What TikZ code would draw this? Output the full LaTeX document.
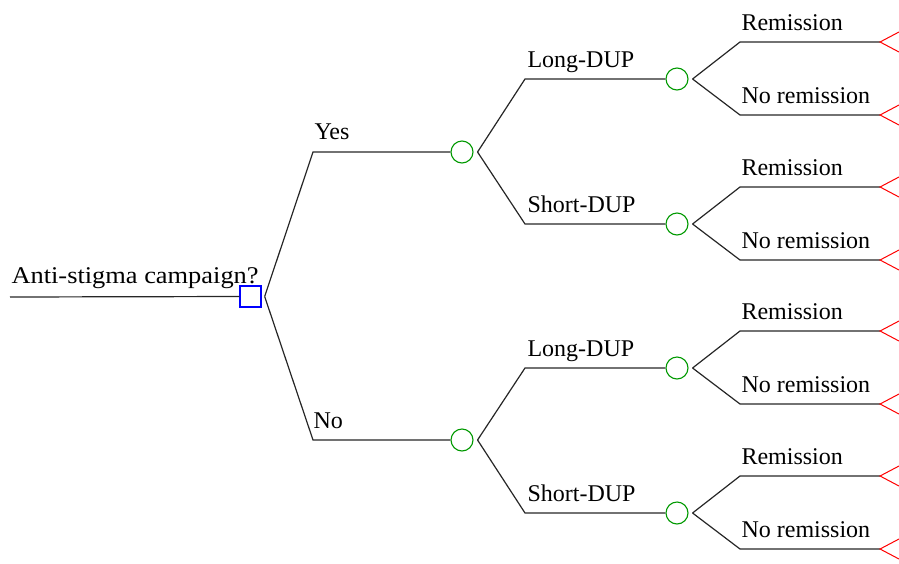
\documentclass[tikz,border=0pt]{standalone}
\usepackage{fontspec}
\setmainfont{Liberation Serif}
\newfontfamily\widefont[FakeStretch=1.1]{Liberation Serif}
\begin{document}
\begin{tikzpicture}[x=1pt,y=-1pt,line width=1.1pt,
  branch/.style={draw=black!85,line width=1.2pt},
  decision/.style={draw=blue,line width=1.3pt,rectangle,minimum size=21pt,inner sep=0pt},
  chance/.style={draw=green!60!black,circle,minimum size=22pt,inner sep=0pt,line width=1.1pt},
  lbl/.style={anchor=base west,inner sep=0pt,font=\fontsize{24}{28}\selectfont},
  term/.style={draw=red,line width=1pt}]
\useasboundingbox (0,0) rectangle (899,563);
% root
\coordinate (R) at (10,297);
\node[decision] (D) at (250.5,296.5) {};
\node[lbl,font=\fontsize{24}{28}\widefont] (q) at (11,283) {Anti-stigma campaign?};
\draw[branch] (R) -- (D.west);
% first level
\coordinate (Ey) at (313,152);
\coordinate (En) at (313,440);
\node[chance] (C1) at (462,152) {};
\node[chance] (C2) at (462,440) {};
\coordinate (Dp) at ([xshift=3pt]D.east);
\draw[branch] (Dp) -- (Ey) -- (C1.west);
\draw[branch] (Dp) -- (En) -- (C2.west);
\node[lbl] (ly) at (314,139) {Yes};
\node[lbl] (ln) at (313,428) {No};
% second level
\coordinate (E11) at (525,79);
\coordinate (E12) at (525,224);
\coordinate (E21) at (525,368);
\coordinate (E22) at (525,513);
\node[chance] (C11) at (677,79) {};
\node[chance] (C12) at (677,224) {};
\node[chance] (C21) at (677,368) {};
\node[chance] (C22) at (677,513) {};
\coordinate (P1) at ([xshift=4pt]C1.east);
\coordinate (P2) at ([xshift=4pt]C2.east);
\draw[branch] (P1) -- (E11) -- (C11.west);
\draw[branch] (P1) -- (E12) -- (C12.west);
\draw[branch] (P2) -- (E21) -- (C21.west);
\draw[branch] (P2) -- (E22) -- (C22.west);
\node[lbl] (l11) at (527,67) {Long-DUP};
\node[lbl] (l12) at (527,212) {Short-DUP};
\node[lbl] (l21) at (527,356) {Long-DUP};
\node[lbl] (l22) at (527,501) {Short-DUP};
% third level
\foreach \c/\y in {C11/79,C12/224,C21/368,C22/513}{
  \coordinate (\c p) at ([xshift=4pt]\c.east);
  \coordinate (\c a) at (740,\y-37);
  \coordinate (\c b) at (740,\y+36);
  \coordinate (\c ta) at (880,\y-37);
  \coordinate (\c tb) at (880,\y+36);
  \draw[branch] (\c p) -- (\c a) -- (\c ta);
  \draw[branch] (\c p) -- (\c b) -- (\c tb);
  \node[lbl] (\c la) at (741,\y-49) {Remission};
  \node[lbl] (\c lb) at (741,\y+24) {No remission};
  \draw[term] ([shift={(19,-10)}]\c ta) -- (\c ta) -- ([shift={(19,10)}]\c ta);
  \draw[term] ([shift={(19,-10)}]\c tb) -- (\c tb) -- ([shift={(19,10)}]\c tb);
}
\end{tikzpicture}
\end{document}
